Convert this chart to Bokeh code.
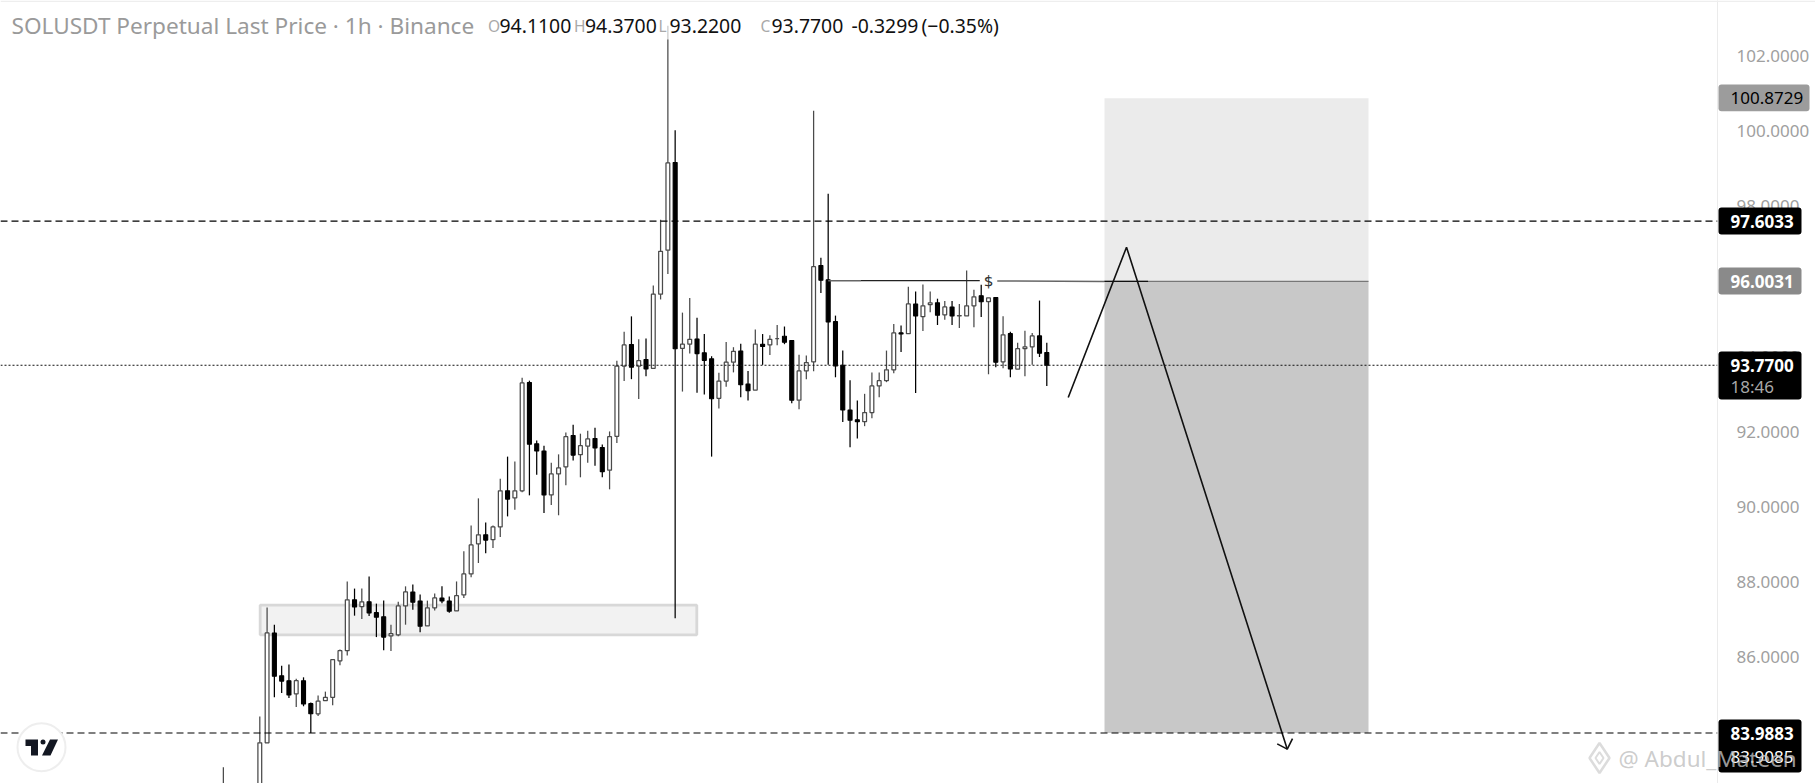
from bokeh.plotting import figure
from bokeh.models import Label, BoxAnnotation, Span, FixedTicker, NumeralTickFormatter, ColumnDataSource
from bokeh.embed import file_html
from bokeh.resources import INLINE

# ---------- data (1h SOLUSDT candles) ----------
first_bar = -5
opens = [82.3,82.5,82.4,82.5,82.3,82.5,
83.73,86.65,85.51,85.38,85.03,85.38,84.77,84.50,84.85,84.94,85.91,86.18,87.53,87.35,87.48,87.19,87.08,86.57,86.60,87.37,87.74,87.50,86.84,87.32,87.58,87.50,87.24,87.66,88.22,89.02,89.26,89.13,89.47,
90.43,90.24,90.43,93.31,91.68,91.49,90.32,90.88,91.07,91.90,91.39,91.62,91.82,91.58,90.98,91.88,93.75,94.32,93.75,93.92,
93.69,95.66,96.83,99.16,94.22,94.33,94.47,94.10,93.94,92.89,93.35,93.85,94.15,93.27,93.11,94.33,94.31,94.48,94.54,94.43,92.84,93.62,93.86,96.42,96.04,94.93,93.77,92.58,92.32,92.27,92.51,93.22,93.36,93.65,94.63,94.61,95.40,95.06,95.38,95.43,95.11,95.32,95.08,95.08,95.35,95.62,95.46,95.57,93.86,94.61,93.67,94.21,94.26,94.55,94.11]
highs = [83.08,82.6,82.55,82.6,82.55,84.43,
87.33,86.87,85.78,85.81,85.43,85.47,84.80,84.99,85.09,85.94,86.21,88.02,87.83,87.83,88.15,87.43,87.51,86.87,87.48,87.89,87.94,87.67,87.51,87.70,87.89,87.62,88.02,88.82,89.51,90.23,89.59,89.51,90.75,
91.34,91.21,93.44,93.36,91.77,91.63,91.18,91.40,91.98,92.19,91.95,92.03,92.11,91.66,92.01,93.89,94.66,95.07,94.46,94.48,
95.89,97.64,102.8,100.02,95.17,95.56,95.03,94.60,94.01,93.57,94.39,94.25,94.34,93.62,94.72,94.60,94.57,94.84,94.80,94.43,94.05,94.03,100.54,96.63,98.33,95.09,94.16,93.37,92.83,93.01,93.58,93.58,94.16,94.87,94.83,95.86,95.73,95.92,95.73,95.54,95.48,95.48,95.40,96.29,95.78,95.91,95.56,95.57,95.07,94.66,94.37,94.69,94.63,95.49,94.37]
lows = [82.1,82.2,82.0,82.1,82.1,82.3,
83.73,84.94,85.05,84.92,84.68,84.70,83.99,84.44,84.85,84.73,85.79,86.05,87.11,87.02,87.10,86.54,86.19,86.17,86.56,86.87,87.27,86.67,86.84,87.25,87.44,87.19,87.24,87.58,88.13,88.51,88.77,88.91,89.20,
89.75,89.93,90.39,90.31,90.86,89.84,90.05,89.78,90.58,91.24,90.79,91.18,91.10,90.79,90.47,91.70,93.35,93.40,92.87,93.48,
93.69,95.52,96.20,87.04,93.07,94.08,93.04,92.99,91.34,92.62,93.20,93.58,92.92,92.83,93.11,93.78,94.04,94.30,94.33,92.76,92.60,93.40,93.61,95.69,93.78,93.45,92.26,91.59,91.82,92.15,92.36,92.92,93.32,93.56,94.12,94.61,93.03,94.68,95.18,94.84,94.98,94.84,94.76,95.08,94.78,95.05,93.53,93.72,93.69,93.45,93.67,93.48,93.78,93.99,93.22]
closes = [82.5,82.4,82.5,82.3,82.5,83.73,
86.65,85.50,85.37,85.00,85.38,84.76,84.50,84.84,84.94,85.94,86.18,87.53,87.34,87.48,87.18,87.07,86.54,86.63,87.37,87.74,87.47,86.83,87.32,87.58,87.50,87.23,87.64,88.22,88.99,89.26,89.12,89.47,90.43,
90.21,90.43,93.30,91.67,91.49,90.32,90.88,91.04,91.87,91.38,91.63,91.81,91.57,90.94,91.87,93.75,94.31,93.72,93.89,93.67,
95.66,96.80,99.15,94.21,94.33,94.46,94.08,93.90,92.88,93.35,93.85,94.14,93.25,93.09,94.33,94.27,94.46,94.48,94.38,92.84,93.62,93.84,96.39,96.03,94.92,93.75,92.58,92.31,92.27,92.51,93.22,93.36,93.65,94.63,94.60,95.40,95.08,95.35,95.43,95.10,95.32,95.08,95.09,95.35,95.59,95.46,95.56,93.85,94.58,93.67,94.21,94.26,94.55,94.09,93.77]
bars = list(range(first_bar, first_bar + len(opens)))

tick_prices = [84, 86, 88, 90, 92, 94, 96, 98, 100, 102]
zone_bars = [0.05, 59.97]
zone_prices = [87.39, 86.60]
position_bars = [115.92, 152.15]
target_price, entry_price, stop_price = 83.9883, 96.0031, 100.8729
level_high, level_low, last_price = 97.6033, 83.9883, 93.77
arrow_bars = [110.94, 118.94, 141.0]
arrow_prices = [92.91, 96.91, 83.56]
head_bars = [139.62, 141.0, 141.72]
head_prices = [83.70, 83.56, 83.84]

# ---------- pixel calibration of the page (page x/y to bar/price) ----------
BAR0_PX, BAR_PX = 259.3, 7.287
P100_PY, UNIT_PX = 130.5, 37.6
def BX(px): return (px - BAR0_PX) / BAR_PX
def PY(py): return 100 - (py - P100_PY) / UNIT_PX
W, H, FR = 1815, 783, 1717

p = figure(frame_width=FR, frame_height=H, min_border_left=0, min_border_right=W - FR,
           min_border_top=0, min_border_bottom=0, x_range=(BX(0), BX(FR)), y_range=(PY(H), PY(0)),
           x_axis_location=None, y_axis_location="right", toolbar_location=None,
           output_backend="svg", background_fill_color="white", border_fill_color="white")
p.grid.visible = False
p.outline_line_color = None

ax = p.yaxis[0]
ax.ticker = FixedTicker(ticks=tick_prices)
ax.formatter = NumeralTickFormatter(format="0.0000")
ax.axis_line_color = "#ebebeb"
ax.axis_line_width = 1
ax.major_tick_line_color = None
ax.minor_tick_line_color = None
ax.major_label_standoff = 13
ax.major_label_text_font = "Noto Sans"
ax.major_label_text_font_size = "17px"
ax.major_label_text_color = "#a0a0a0"

# short position boxes
p.quad(left=position_bars[0], right=position_bars[1], top=stop_price, bottom=entry_price,
       fill_color="#ebebeb", line_color=None)
p.quad(left=position_bars[0], right=position_bars[1], top=entry_price, bottom=target_price,
       fill_color="#c8c8c8", line_color=None)
p.line(position_bars, [entry_price, entry_price], line_color="#777777", line_width=1.2)

# demand zone
p.quad(left=zone_bars[0], right=zone_bars[1], top=zone_prices[0], bottom=zone_prices[1],
       fill_color="#f2f2f2", line_color="#d8d8d8", line_width=2.8)

# levels
p.add_layout(Span(location=level_high, dimension="width", line_color="black", line_dash="7 4", line_width=1.1))
p.add_layout(Span(location=level_low, dimension="width", line_color="black", line_dash="7 4", line_width=1.1))
p.add_layout(Span(location=last_price, dimension="width", line_color="#111111", line_dash="2 2", line_width=1.1))

# candles
ups = [c >= o for o, c in zip(opens, closes)]
def pick(seq, flag): return [v for v, u in zip(seq, ups) if u == flag]
up = ColumnDataSource(dict(x=pick(bars, True), o=pick(opens, True), h=pick(highs, True), l=pick(lows, True), c=pick(closes, True)))
dn = ColumnDataSource(dict(x=pick(bars, False), o=pick(opens, False), h=pick(highs, False), l=pick(lows, False), c=pick(closes, False)))
p.segment("x", "h", "x", "l", source=up, line_color="#4a4a4a", line_width=1.25)
p.segment("x", "h", "x", "l", source=dn, line_color="#000000", line_width=1.25)
p.vbar("x", 0.52, "o", "c", source=up, fill_color="white", line_color="#4a4a4a", line_width=1.25)
p.vbar("x", 0.55, "o", "c", source=dn, fill_color="black", line_color="black", line_width=1.1)

# liquidity line with $
p.line([78, 82.5], [96.02, 96.02], line_color="#666666", line_width=1.5)
p.line([82.5, 98.8], [96.02, 96.02], line_color="#222222", line_width=1.2)
p.line([101.2, 115.9], [96.01, 96.00], line_color="#666666", line_width=1.5)
p.line([115.9, 121.9], [96.00, 96.00], line_color="#111111", line_width=1.2)

# projected path
p.line(arrow_bars, arrow_prices, line_color="#111111", line_width=1.6)
p.line(head_bars, head_prices, line_color="#111111", line_width=1.6)

# TradingView badge
p.scatter([BX(41)], [PY(746.7)], size=48, marker="circle", fill_color="white", line_color="#eeeeee", line_width=2, level="overlay")
p.patch([BX(v) for v in (25, 37.5, 37.5, 30.5, 30.5, 25)],
        [PY(v) for v in (739, 739, 755, 755, 745.5, 745.5)], fill_color="#131722", line_color=None, level="overlay")
p.patch([BX(v) for v in (49.5, 57.5, 50, 41.5)],
        [PY(v) for v in (739, 739, 755, 755)], fill_color="#131722", line_color=None, level="overlay")
p.scatter([BX(42.5)], [PY(741.5)], size=5, marker="circle", fill_color="#131722", line_color=None, level="overlay")

# legend strip
p.add_layout(BoxAnnotation(left=0, right=1000, left_units="screen", right_units="screen",
                           top=PY(0), bottom=PY(39), fill_color="white", fill_alpha=0.7, line_color=None, level="overlay"))

# ---------- transparent layer on top: price tags, legend text, watermark ----------
top = figure(frame_width=W, frame_height=H, min_border_left=0, min_border_right=0, min_border_top=0, min_border_bottom=0,
             x_range=(0, W), y_range=(PY(H), PY(0)), x_axis_location=None, y_axis_location=None,
             toolbar_location=None, output_backend="svg", background_fill_alpha=0, border_fill_alpha=0,
             styles={"position": "absolute", "left": "0px", "top": "0px"})
top.grid.visible = False
top.outline_line_color = None

def txt(x, py, text, color, size, align="left", style="normal"):
    top.add_layout(Label(x=x, y=PY(py), text=text, text_color=color, text_font_style=style,
                         text_font="Noto Sans", text_font_size=size, text_align=align, text_baseline="middle"))

top.add_layout(BoxAnnotation(left=0, right=W, top=PY(0), bottom=PY(1.5), fill_color="#eeeeee", fill_alpha=1, line_color=None))

title_y = 25
txt(11, title_y, "SOLUSDT Perpetual Last Price \u00b7 1h \u00b7 Binance", "#9a9a9a", "22.6px")
for x, t in [(487.5, "O"), (573.5, "H"), (658, "L"), (760, "C")]:
    txt(x, title_y, t, "#a9a9a9", "15.5px")
for x, t in [(499, "94.1100"), (584.5, "94.3700"), (669, "93.2200"), (771, "93.7700"), (851, "-0.3299"), (921, "(\u22120.35%)")]:
    txt(x, title_y, t, "#111111", "19.4px")
txt(988, 280, "$", "#333333", "16px", "center")

# price tags
def tag(py_top, py_bot, right, color):
    top.add_layout(BoxAnnotation(left=1718, right=right, top=PY(py_top), bottom=PY(py_bot), fill_color=color, fill_alpha=1,
                                 line_color=None, border_radius=3))

tag(84, 110.7, 1809, "#9c9c9c")
txt(1730, 97.5, "100.8729", "#000000", "17px")
tag(207, 234, 1801, "#000000")
txt(1730, 220.5, "97.6033", "#ffffff", "17px", style="bold")
tag(267, 294, 1801, "#8a8a8a")
txt(1730, 280.5, "96.0031", "#ffffff", "17px", style="bold")
tag(351, 399, 1801, "#000000")
txt(1730, 364.5, "93.7700", "#ffffff", "17px", style="bold")
txt(1730, 386, "18:46", "#a8a8a8", "17px")
tag(719, 772, 1801, "#000000")
txt(1730, 732.5, "83.9883", "#ffffff", "17px", style="bold")
txt(1730, 756.5, "83.9085", "#ffffff", "17px")

# watermark
top.scatter([1599], [PY(757.5)], size=30, marker="diamond", fill_color=None, line_color="#dcdcdc", line_width=2.5)
top.scatter([1599], [PY(757.5)], size=12, marker="diamond", fill_color=None, line_color="#dcdcdc", line_width=2)
top.add_layout(Label(x=1618, y=PY(757.5), text="@ Abdul_Mateen", text_color="#c0c0c0", text_alpha=0.8,
                     text_font="Noto Sans", text_font_size="22.5px", text_baseline="middle"))

open("out.html", "w").write(file_html([p, top], INLINE))
